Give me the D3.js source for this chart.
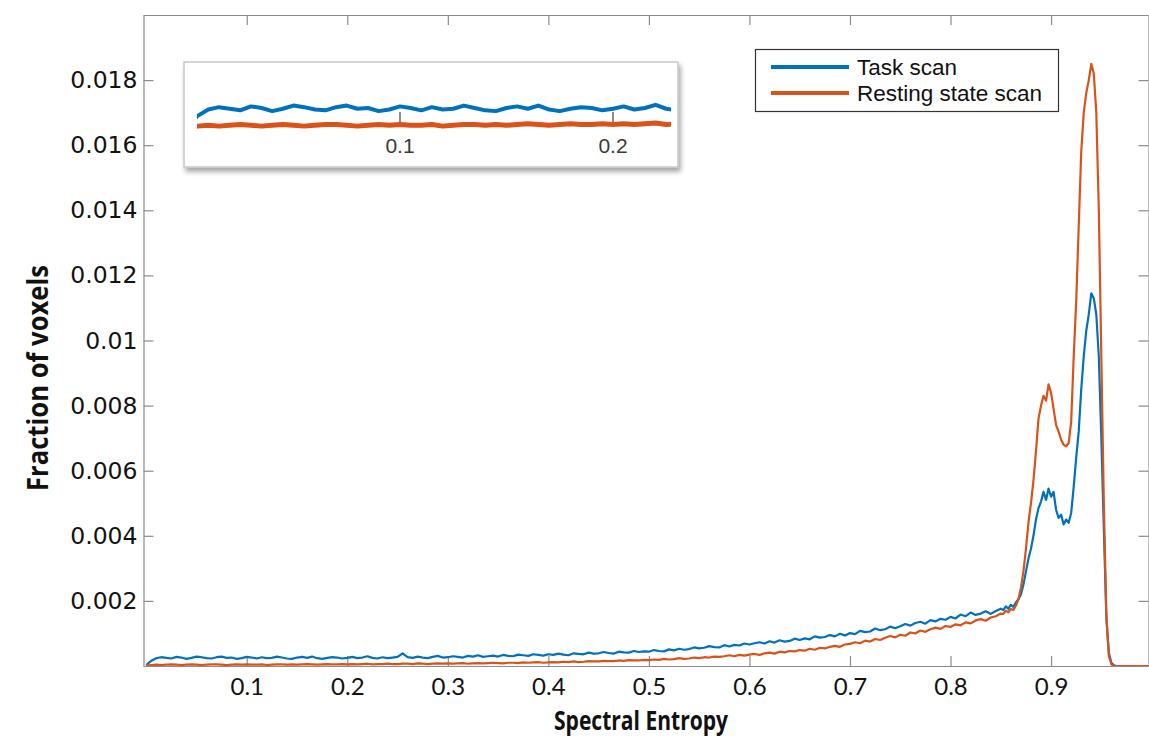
<!DOCTYPE html>
<html>
<head>
<meta charset="utf-8">
<script src="https://cdn.jsdelivr.net/npm/d3@7"></script>
<style>
  html, body { margin: 0; padding: 0; background: #fff; }
  svg { display: block; }
</style>
</head>
<body>
<svg id="chart" width="1149" height="745"></svg>
<script>
// ---------------- DATA (values in units of 1e-4 = fraction of voxels) ----------------
const UNIT = 1e-4;
// Low/middle range bins: spectral entropy 0.000 .. 0.850, bin width 0.005
const lowStep = 0.005;
const taskLow = [
  0.3, 1.6, 2.4, 2.7, 2.5, 2.3, 2.8, 2.6, 2.2, 2.5,
  2.9, 2.7, 2.4, 2.3, 2.7, 2.9, 2.5, 2.6, 2.2, 2.4,
  2.8, 2.6, 2.3, 2.7, 2.4, 2.5, 2.9, 2.6, 2.3, 2.2,
  2.6, 2.8, 2.5, 2.9, 2.4, 2.2, 2.5, 2.7, 2.6, 2.3,
  2.5, 2.8, 2.4, 2.6, 3.0, 2.5, 2.3, 2.7, 2.4, 2.6,
  2.8, 3.9, 2.7, 2.5, 2.9, 2.6, 2.4, 2.8, 3.1, 2.6,
  2.7, 3.0, 2.8, 2.6, 3.1, 2.9, 3.3, 2.8, 3.0, 3.2,
  2.9, 3.4, 3.1, 3.0, 3.5, 3.3, 3.1, 3.6, 3.4, 3.2,
  3.6, 3.4, 3.8, 3.5, 3.3, 3.9, 3.7, 3.6, 4.1, 3.8,
  3.9, 4.3, 4.0, 3.8, 4.4, 4.2, 4.1, 4.6, 4.3, 4.5,
  4.4, 4.9, 4.6, 4.5, 5.1, 4.8, 5.3, 5.0, 5.2, 5.7,
  5.4, 5.6, 6.1, 5.8, 5.7, 6.4, 6.0, 6.5, 6.3, 6.9,
  6.6, 7.0, 7.3, 6.9, 7.6, 7.2, 7.9, 7.5, 7.7, 8.4,
  8.0, 8.5, 8.2, 9.1, 8.7, 8.9, 9.5, 9.1, 9.9, 9.4,
  10.1, 9.8, 10.8, 10.4, 10.6, 11.5, 11.0, 11.3, 12.1, 11.6,
  12.2, 12.9, 12.4, 13.2, 13.6, 13.0, 14.1, 13.7, 14.5, 14.2,
  15.1, 14.6, 15.8, 15.3, 16.4, 15.7, 16.1, 16.8, 16.0, 16.9,
  17.6
];
const restLow = [
  0.1, 0.3, 0.4, 0.3, 0.4, 0.5, 0.4, 0.3, 0.4, 0.5,
  0.4, 0.3, 0.4, 0.5, 0.5, 0.4, 0.3, 0.4, 0.5, 0.4,
  0.5, 0.4, 0.4, 0.5, 0.3, 0.4, 0.5, 0.5, 0.4, 0.5,
  0.4, 0.5, 0.6, 0.5, 0.4, 0.5, 0.6, 0.5, 0.5, 0.6,
  0.5, 0.6, 0.5, 0.6, 0.7, 0.5, 0.6, 0.6, 0.7, 0.6,
  0.6, 0.7, 0.7, 0.6, 0.8, 0.7, 0.6, 0.7, 0.8, 0.7,
  0.8, 0.7, 0.8, 0.9, 0.7, 0.8, 0.9, 0.8, 0.9, 1.0,
  0.9, 0.8, 1.0, 1.0, 0.9, 1.1, 1.0, 1.1, 1.2, 1.0,
  1.1, 1.2, 1.1, 1.3, 1.2, 1.4, 1.2, 1.3, 1.5, 1.4,
  1.4, 1.6, 1.5, 1.5, 1.7, 1.6, 1.8, 1.7, 1.7, 1.9,
  1.8, 2.0, 1.9, 2.2, 2.0, 2.1, 2.4, 2.2, 2.3, 2.6,
  2.4, 2.7, 2.6, 2.9, 2.8, 3.0, 3.3, 3.0, 3.4, 3.2,
  3.5, 3.7, 3.4, 3.9, 4.1, 3.8, 4.4, 4.2, 4.6, 4.5,
  4.9, 4.7, 5.3, 5.0, 5.6, 5.4, 5.9, 6.2, 5.9, 6.6,
  6.8, 7.3, 7.0, 7.8, 7.5, 8.3, 8.0, 8.7, 9.2, 8.8,
  9.6, 9.3, 10.3, 10.0, 10.9, 10.5, 11.3, 11.8, 11.4, 12.3,
  12.0, 12.8, 12.5, 13.4, 13.1, 14.0, 14.4, 13.9, 14.9, 15.3,
  16.1
];
// Peak range bins: spectral entropy 0.8525 .. 1.0000, bin width 0.0025
const peakStart = 0.8525, peakStep = 0.0025;
const taskPeak = [
  17.2, 18.3, 17.6, 18.8, 18.2, 19.5, 20.5, 22.0, 25.0, 29.0,
  33.0, 36.0, 40.0, 45.0, 48.5, 50.5, 53.5, 51.0, 54.5, 52.0,
  53.5, 48.0, 45.5, 46.5, 43.5, 45.0, 44.0, 47.0, 55.0, 64.0,
  72.0, 85.0, 95.0, 103.0, 108.0, 114.5, 113.0, 108.0, 95.0, 70.0,
  42.0, 15.0, 4.0, 1.0, 0.2, 0, 0, 0, 0, 0,
  0, 0, 0, 0, 0, 0, 0, 0, 0, 0
];
const restPeak = [
  16.0, 17.0, 16.5, 17.5, 17.2, 18.5, 20.5, 24.0, 29.0, 36.0,
  44.0, 50.0, 57.0, 66.0, 76.0, 80.0, 83.0, 81.5, 86.5, 84.0,
  79.0, 74.0, 72.0, 69.5, 68.0, 67.5, 68.5, 75.0, 95.0, 112.0,
  135.0, 158.0, 170.0, 176.0, 180.0, 185.0, 182.0, 170.0, 140.0, 95.0,
  50.0, 15.0, 3.0, 0.5, 0, 0, 0, 0, 0, 0,
  0, 0, 0, 0, 0, 0, 0, 0, 0, 0
];
const seriesNames = ["Task scan", "Resting state scan"];
const seriesColors = ["#0072BD", "#D95319"];
const xTicks = [0.1, 0.2, 0.3, 0.4, 0.5, 0.6, 0.7, 0.8, 0.9];
const xTickLabels = ["0.1", "0.2", "0.3", "0.4", "0.5", "0.6", "0.7", "0.8", "0.9"];
const yTicks = [0.002, 0.004, 0.006, 0.008, 0.01, 0.012, 0.014, 0.016, 0.018];
const yTickLabels = ["0.002", "0.004", "0.006", "0.008", "0.01", "0.012", "0.014", "0.016", "0.018"];
const insetTicks = [0.1, 0.2];
const insetTickLabels = ["0.1", "0.2"];
const xTitle = "Spectral Entropy";
const yTitle = "Fraction of voxels";

// ---------------- build series ----------------
function build(low, peak) {
  const pts = low.map((v, i) => ({ x: i * lowStep, y: v * UNIT }));
  peak.forEach((v, i) => pts.push({ x: peakStart + i * peakStep, y: v * UNIT }));
  return pts;
}
const series = [build(taskLow, taskPeak), build(restLow, restPeak)];

// ---------------- layout ----------------
const svg = d3.select("#chart");
const L = 143.5, R = 1148.5, T = 15, B = 666;
const x = d3.scaleLinear().domain([-0.0027, 1.0]).range([L, 1151.6]);
const y = d3.scaleLinear().domain([0, 0.02]).range([B, T]);

const defs = svg.append("defs");
defs.append("clipPath").attr("id", "plotClip")
  .append("rect").attr("x", L).attr("y", T).attr("width", R - L).attr("height", B - T);

const axisColor = "#8c8c8c";
const tickLen = 10;

const gLeft = svg.append("g").attr("transform", `translate(${L},0)`)
  .call(d3.axisLeft(y).tickValues(yTicks).tickFormat((d, i) => yTickLabels[i])
    .tickSizeInner(-tickLen).tickSizeOuter(0).tickPadding(6));
gLeft.selectAll("text").attr("font-family", "'DejaVu Sans', sans-serif")
  .attr("font-size", 23.5).attr("fill", "#111");

const gBottom = svg.append("g").attr("transform", `translate(0,${B})`)
  .call(d3.axisBottom(x).tickValues(xTicks).tickFormat((d, i) => xTickLabels[i])
    .tickSizeInner(-tickLen).tickSizeOuter(0).tickPadding(12));
gBottom.selectAll("text").attr("font-family", "Lato, sans-serif")
  .attr("font-size", 24).attr("fill", "#111");

const gTop = svg.append("g").attr("transform", `translate(0,${T})`)
  .call(d3.axisTop(x).tickValues(xTicks).tickFormat("")
    .tickSizeInner(-tickLen).tickSizeOuter(0));
const gRight = svg.append("g").attr("transform", `translate(${R},0)`)
  .call(d3.axisRight(y).tickValues(yTicks).tickFormat("")
    .tickSizeInner(-tickLen).tickSizeOuter(0));

[gLeft, gBottom, gTop, gRight].forEach(g => {
  g.select(".domain").attr("stroke", axisColor).attr("stroke-width", 1.2);
  g.selectAll(".tick line").attr("stroke", axisColor).attr("stroke-width", 1.2);
});
gBottom.select(".domain").attr("d", `M${L},0.5H${R}`);
gTop.select(".domain").attr("d", `M${L},0.5H${R}`);

// titles (condensed, Calibri-like width)
svg.append("text").attr("x", 641).attr("y", 730).attr("text-anchor", "middle")
  .attr("font-family", "'Open Sans', Lato, sans-serif")
  .attr("font-weight", "bold").attr("font-size", 27).attr("fill", "#111")
  .attr("textLength", 174).attr("lengthAdjust", "spacingAndGlyphs").text(xTitle);
svg.append("text").attr("transform", "translate(48,378) rotate(-90)").attr("text-anchor", "middle")
  .attr("font-family", "'Open Sans', Lato, sans-serif")
  .attr("font-weight", "bold").attr("font-size", 28).attr("fill", "#111")
  .attr("textLength", 226).attr("lengthAdjust", "spacingAndGlyphs").text(yTitle);

// lines
const line = d3.line().x(d => x(d.x)).y(d => y(d.y));
const gLines = svg.append("g").attr("clip-path", "url(#plotClip)");
series.forEach((s, i) => {
  gLines.append("path").datum(s).attr("d", line).attr("fill", "none")
    .attr("stroke", seriesColors[i]).attr("stroke-width", 2.2).attr("stroke-linejoin", "round");
});

// ---------------- inset (zoom of low range) ----------------
const IL = 184, IR = 678, IT = 62, IB = 167;
const shadow = defs.append("filter").attr("id", "shadow")
  .attr("x", "-5%").attr("y", "-10%").attr("width", "115%").attr("height", "140%");
shadow.append("feDropShadow").attr("dx", 2).attr("dy", 4).attr("stdDeviation", 2.5)
  .attr("flood-color", "#000").attr("flood-opacity", 0.35);
svg.append("rect").attr("x", IL).attr("y", IT).attr("width", IR - IL).attr("height", IB - IT)
  .attr("fill", "#fff").attr("stroke", "#c8c8c8").attr("stroke-width", 1.5)
  .attr("filter", "url(#shadow)");

const ix = d3.scaleLinear().domain([0.1, 0.2]).range([400, 613]);
const iy = d3.scaleLinear().domain([0, 0.0005]).range([128.5, 89]);
const ixL = 197, ixR = 671;
defs.append("clipPath").attr("id", "insetClip")
  .append("rect").attr("x", ixL).attr("y", IT + 2).attr("width", ixR - ixL).attr("height", IB - IT - 4);
const gInset = svg.append("g");
gInset.selectAll("line.itick").data(insetTicks).join("line")
  .attr("x1", d => ix(d)).attr("x2", d => ix(d)).attr("y1", 126).attr("y2", 112)
  .attr("stroke", "#444").attr("stroke-width", 1.2);
gInset.selectAll("text.ilab").data(insetTicks).join("text")
  .attr("x", d => ix(d)).attr("y", 153).attr("text-anchor", "middle")
  .attr("font-family", "'Liberation Sans', Arial, sans-serif").attr("font-size", 21)
  .attr("fill", "#3a3a3a").text((d, i) => insetTickLabels[i]);
const iline = d3.line().x(d => ix(d.x)).y(d => iy(d.y));
const gIL = gInset.append("g").attr("clip-path", "url(#insetClip)");
const insetWidths = [4, 5];
[1, 0].forEach(i => {
  const s = series[i].filter(d => d.x <= 0.235);
  gIL.append("path").datum(s).attr("d", iline).attr("fill", "none")
    .attr("stroke", seriesColors[i]).attr("stroke-width", insetWidths[i])
    .attr("stroke-linejoin", "round");
});

// ---------------- legend ----------------
const lg = svg.append("g");
lg.append("rect").attr("x", 755.5).attr("y", 49.5).attr("width", 303).attr("height", 62)
  .attr("fill", "#fff").attr("stroke", "#333").attr("stroke-width", 1.2);
seriesNames.forEach((n, i) => {
  const yy = 67 + i * 26;
  lg.append("line").attr("x1", 771).attr("x2", 849).attr("y1", yy).attr("y2", yy)
    .attr("stroke", seriesColors[i]).attr("stroke-width", 4);
  lg.append("text").attr("x", 857).attr("y", yy + 8)
    .attr("font-family", "'Liberation Sans', Arial, sans-serif").attr("font-size", 22.5)
    .attr("fill", "#111").text(n);
});
</script>
</body>
</html>
